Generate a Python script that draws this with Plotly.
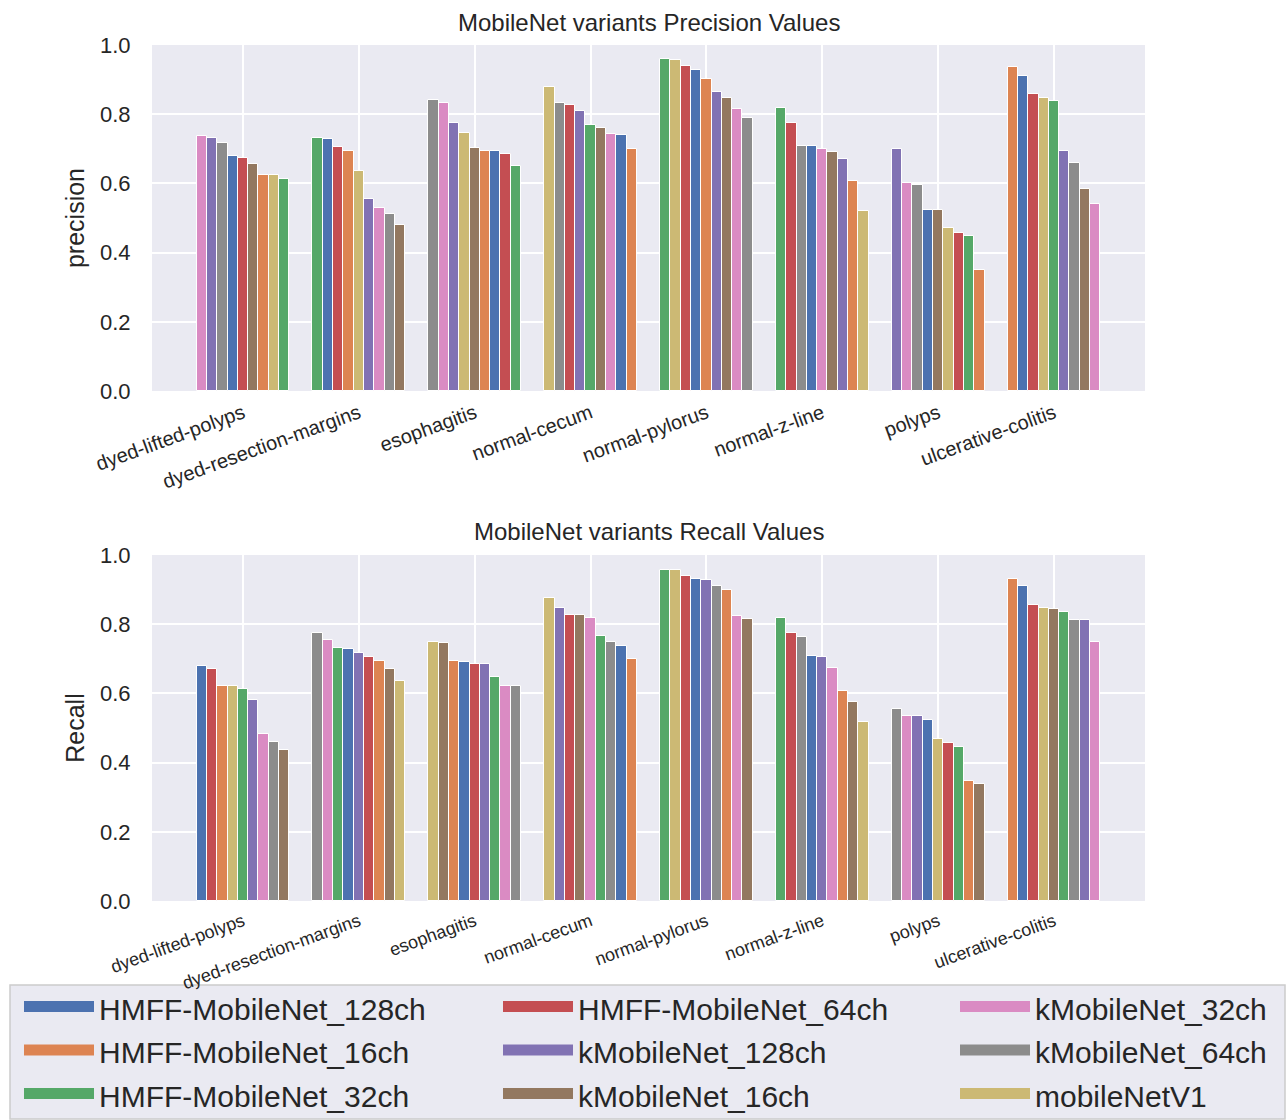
import plotly.graph_objects as go
from plotly.subplots import make_subplots

categories = ["dyed-lifted-polyps", "dyed-resection-margins", "esophagitis", "normal-cecum",
              "normal-pylorus", "normal-z-line", "polyps", "ulcerative-colitis"]
models = ["HMFF-MobileNet_128ch", "HMFF-MobileNet_16ch", "HMFF-MobileNet_32ch",
          "HMFF-MobileNet_64ch", "kMobileNet_128ch", "kMobileNet_16ch",
          "kMobileNet_32ch", "kMobileNet_64ch", "mobileNetV1"]
colors = ["#4C72B0", "#DD8452", "#55A868", "#C44E52", "#8172B3",
          "#937860", "#DA8BC3", "#8C8C8C", "#CCB974"]

# Precision per model (category order as above)
prec_hmff_128 = [0.680, 0.729, 0.693, 0.739, 0.929, 0.707, 0.524, 0.910]
prec_hmff_16 = [0.624, 0.695, 0.694, 0.700, 0.901, 0.608, 0.349, 0.935]
prec_hmff_32 = [0.614, 0.730, 0.649, 0.769, 0.959, 0.819, 0.447, 0.837]
prec_hmff_64 = [0.672, 0.706, 0.684, 0.828, 0.939, 0.776, 0.458, 0.857]
prec_k_128 = [0.731, 0.555, 0.775, 0.810, 0.865, 0.671, 0.698, 0.693]
prec_k_16 = [0.655, 0.480, 0.702, 0.760, 0.847, 0.690, 0.522, 0.583]
prec_k_32 = [0.737, 0.529, 0.831, 0.744, 0.816, 0.699, 0.601, 0.540]
prec_k_64 = [0.718, 0.513, 0.841, 0.833, 0.789, 0.708, 0.596, 0.658]
prec_v1 = [0.623, 0.636, 0.747, 0.878, 0.958, 0.519, 0.470, 0.846]

# Recall per model
rec_hmff_128 = [0.678, 0.729, 0.692, 0.738, 0.930, 0.707, 0.524, 0.909]
rec_hmff_16 = [0.622, 0.694, 0.693, 0.699, 0.900, 0.606, 0.348, 0.930]
rec_hmff_32 = [0.614, 0.730, 0.648, 0.767, 0.958, 0.818, 0.445, 0.835]
rec_hmff_64 = [0.671, 0.705, 0.685, 0.828, 0.939, 0.774, 0.457, 0.856]
rec_k_128 = [0.581, 0.717, 0.684, 0.848, 0.929, 0.706, 0.534, 0.812]
rec_k_16 = [0.435, 0.671, 0.747, 0.827, 0.814, 0.574, 0.337, 0.845]
rec_k_32 = [0.484, 0.753, 0.622, 0.817, 0.823, 0.674, 0.535, 0.749]
rec_k_64 = [0.460, 0.775, 0.621, 0.748, 0.910, 0.762, 0.556, 0.813]
rec_v1 = [0.621, 0.636, 0.748, 0.876, 0.957, 0.518, 0.469, 0.846]

precision = [prec_hmff_128, prec_hmff_16, prec_hmff_32, prec_hmff_64, prec_k_128,
             prec_k_16, prec_k_32, prec_k_64, prec_v1]
recall = [rec_hmff_128, rec_hmff_16, rec_hmff_32, rec_hmff_64, rec_k_128,
          rec_k_16, rec_k_32, rec_k_64, rec_v1]

n = len(models)
bw = 0.8 / n
FONT = "Liberation Sans, Arial, sans-serif"
TXT = "#262626"

W, H = 1288, 1120
ML, MR, MT, MB = 152, 143, 45, 219
PW, PH = W - ML - MR, H - MT - MB


def px_x(px):
    return (px - ML) / PW


def px_y(py):
    return 1 - (py - MT) / PH


def sorted_positions(table):
    xs = [[None] * len(categories) for _ in models]
    for c in range(len(categories)):
        order = sorted(range(n), key=lambda k: -table[k][c])
        for rank, k in enumerate(order):
            xs[k][c] = c + (rank - (n - 1) / 2) * bw
    return xs


fig = make_subplots(rows=2, cols=1, vertical_spacing=px_y(391) - px_y(555))

for row, table in ((1, precision), (2, recall)):
    xs = sorted_positions(table)
    for k, m in enumerate(models):
        fig.add_trace(go.Bar(x=xs[k], y=table[k], width=bw, name=m,
                             marker=dict(color=colors[k], line=dict(color="white", width=1)),
                             showlegend=False, hovertext=categories),
                      row=row, col=1)

# legend entries (three columns)
for k, m in enumerate(models):
    lg = ["legend", "legend2", "legend3"][k // 3]
    fig.add_trace(go.Scatter(x=[None], y=[None], mode="lines", name=m,
                             fill="toself", fillcolor=colors[k],
                             line=dict(color=colors[k], width=20),
                             legend=lg, legendgroup=m, showlegend=True))

legend_common = dict(orientation="v", yanchor="top", xanchor="left", y=px_y(982),
                     bgcolor="rgba(0,0,0,0)", borderwidth=0, itemwidth=70,
                     tracegroupgap=1.5,
                     font=dict(size=30, family=FONT, color=TXT))

fig.update_layout(
    width=W, height=H,
    margin=dict(l=ML, r=MR, t=MT, b=MB, autoexpand=False),
    paper_bgcolor="white", plot_bgcolor="#EAEAF2",
    bargap=0, barmode="overlay",
    font=dict(family=FONT, color=TXT),
    legend=dict(legend_common, x=px_x(19)),
    legend2=dict(legend_common, x=px_x(498)),
    legend3=dict(legend_common, x=px_x(955)),
    shapes=[dict(type="rect", xref="paper", yref="paper",
                 x0=px_x(10), x1=px_x(1285), y0=px_y(1119), y1=px_y(985),
                 fillcolor="#EAEAF2", line=dict(color="#CCCCCC", width=1.5),
                 layer="below")],
    annotations=[
        dict(text="MobileNet variants Precision Values", xref="paper", yref="paper",
             x=0.5, y=px_y(22), xanchor="center", yanchor="middle",
             showarrow=False, font=dict(size=24, family=FONT, color=TXT)),
        dict(text="MobileNet variants Recall Values", xref="paper", yref="paper",
             x=0.5, y=px_y(531), xanchor="center", yanchor="middle",
             showarrow=False, font=dict(size=24, family=FONT, color=TXT)),
    ],
)

for row, title, fs in ((1, "precision", 20), (2, "Recall", 18)):
    fig.update_xaxes(row=row, col=1, range=[-0.785, 7.785],
                     tickvals=list(range(len(categories))), ticktext=categories,
                     tickangle=-20, showgrid=True, gridcolor="white", gridwidth=1.5,
                     zeroline=False, showline=False, ticks="outside", ticklen=2,
                     tickcolor="rgba(0,0,0,0)",
                     tickfont=dict(size=fs, family=FONT, color=TXT))
    fig.update_yaxes(row=row, col=1, range=[0, 1.0],
                     tickvals=[0, 0.2, 0.4, 0.6, 0.8, 1.0], tickformat=".1f",
                     showgrid=True, gridcolor="white", gridwidth=1.5,
                     zeroline=False, showline=False, ticks="outside", ticklen=16,
                     tickcolor="rgba(0,0,0,0)",
                     tickfont=dict(size=22, family=FONT, color=TXT),
                     title=dict(text=title, standoff=8,
                                font=dict(size=25, family=FONT, color=TXT)))

fig.write_html("out.html", config={"displayModeBar": False},
               post_script="document.body.style.margin='0px';")
